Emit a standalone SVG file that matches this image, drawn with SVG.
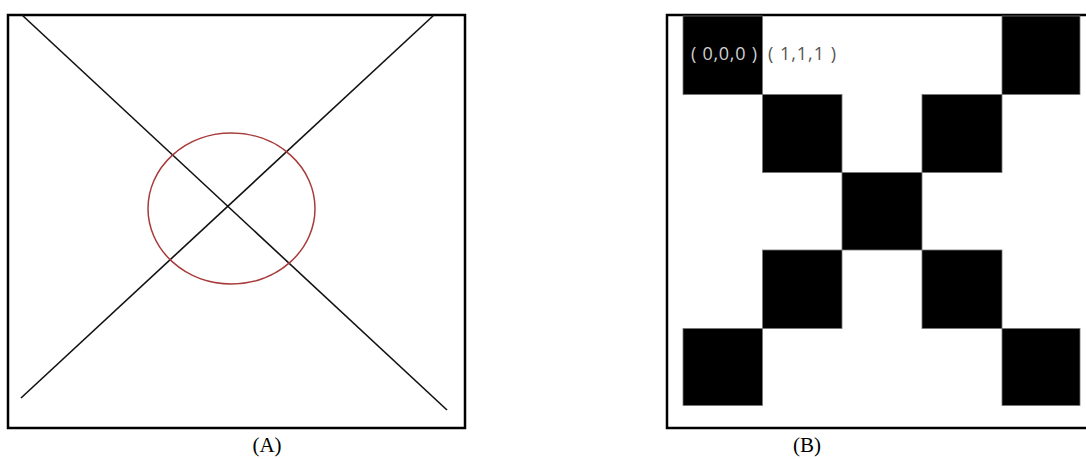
<svg xmlns="http://www.w3.org/2000/svg" width="1086" height="459" viewBox="0 0 1086 459">
<style>
.frame{fill:none;stroke:#000;stroke-width:2.5}
.ln{stroke:#111;stroke-width:1.6;fill:none}
.sq{fill:#000;stroke:#777;stroke-width:0.8}
.cap{font-family:"Liberation Serif",serif;font-size:21px;fill:#000;text-anchor:middle}
.lbl{font-family:"Open Sans","Noto Sans",sans-serif;font-size:18px}
</style>
<rect width="1086" height="459" fill="#fff"/>
<g id="panelA">
<rect class="frame" x="8" y="15" width="457" height="413"/>
<g id="connectors">
<line class="ln" x1="22" y1="15" x2="447" y2="410"/>
<line class="ln" x1="434" y1="15" x2="21" y2="398"/>
</g>
<ellipse id="circle" cx="231.5" cy="208.5" rx="83.5" ry="75.5" fill="none" stroke="#a83a3a" stroke-width="1.5"/>
<text class="cap" x="267" y="452">(A)</text>
</g>
<g id="panelB">
<path class="frame" d="M1086 15 H667 V428 H1086"/>
<g id="cells">
<rect class="sq" x="683" y="16" width="79.5" height="78.5"/>
<rect class="sq" x="1002" y="16" width="78" height="78.5"/>
<rect class="sq" x="762.5" y="94.5" width="79.5" height="78"/>
<rect class="sq" x="922" y="94.5" width="80" height="78"/>
<rect class="sq" x="842" y="172.5" width="80" height="77.5"/>
<rect class="sq" x="762.5" y="250" width="79.5" height="78.5"/>
<rect class="sq" x="922" y="250" width="80" height="78.5"/>
<rect class="sq" x="683" y="328.5" width="79.5" height="77"/>
<rect class="sq" x="1002" y="328.5" width="78" height="77"/>
</g>
<text class="lbl" x="691" y="60" fill="#cfcfcf" textLength="66" lengthAdjust="spacing">( 0,0,0 )</text>
<text class="lbl" x="768" y="60" fill="#555" textLength="68" lengthAdjust="spacing">( 1,1,1 )</text>
<text class="cap" x="807" y="452">(B)</text>
</g>
</svg>
